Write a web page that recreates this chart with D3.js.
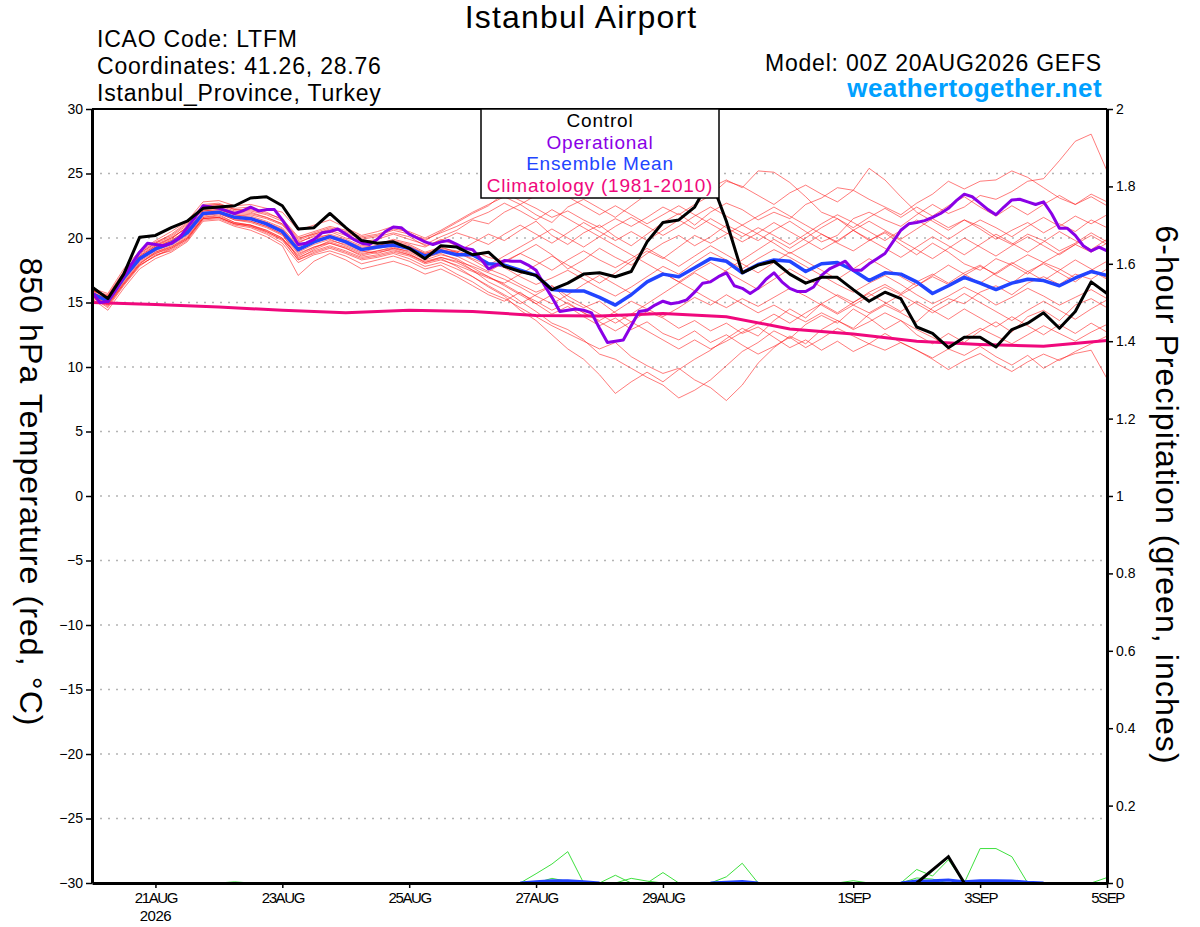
<!DOCTYPE html>
<html>
<head>
<meta charset="utf-8">
<script src="https://cdn.jsdelivr.net/npm/d3@7/dist/d3.min.js"></script>
<style>
body { margin: 0; background: #fff; }
svg { font-family: "Liberation Sans", Arial, Helvetica, sans-serif; }
</style>
</head>
<body>
<svg width="1200" height="927"></svg>
<script>
// time steps (hours) of the different series
const stepHours = 6;
const opStepHours = 3;
const climStepHours = 24;

// 850 hPa temperature, 6-hourly from 00Z 20AUG
const control = [16.2,15.3,17.2,20.05,20.2,20.8,21.3,22.3,22.4,22.5,23.1,23.2,22.5,20.7,20.8,21.9,20.8,19.8,19.6,19.7,
  19.2,18.4,19.4,19.3,18.7,18.9,17.8,17.4,17.1,16.0,16.5,17.2,17.3,17.0,17.4,19.7,21.2,21.4,22.4,24.6,
  21.3,17.3,17.9,18.2,17.2,16.5,16.95,16.95,16.0,15.1,15.8,15.3,13.1,12.6,11.5,12.3,12.3,11.55,12.9,13.4,
  14.2,13.0,14.3,16.6,15.7];

const ensembleMean = [15.7,15.1,16.9,18.4,19.15,19.6,20.4,21.9,22.0,21.6,21.5,21.1,20.5,19.1,19.7,20.1,19.7,19.1,19.3,19.45,
  19.2,18.6,19.0,18.7,18.7,18.0,17.9,17.5,17.1,16.0,15.9,15.9,15.4,14.8,15.6,16.6,17.2,17.0,17.7,18.4,
  18.2,17.3,17.95,18.3,18.2,17.4,18.0,18.1,17.5,16.7,17.3,17.2,16.6,15.7,16.3,16.95,16.5,16.0,16.5,16.8,
  16.7,16.3,16.9,17.4,17.1];

// operational run, 3-hourly
const operational = [15.8,15.0,15.1,16.0,17.0,18.0,18.9,19.6,19.5,19.4,
  19.6,20.0,20.8,21.6,22.5,22.4,22.3,22.1,21.9,22.1,
  22.4,22.1,22.2,22.2,21.4,20.5,19.5,19.6,19.9,20.4,
  20.5,20.7,20.3,19.9,19.6,19.5,19.9,20.5,20.85,20.8,
  20.3,20.0,19.7,19.5,19.7,19.8,19.5,19.2,19.1,18.4,
  17.6,17.9,18.25,18.2,18.2,17.9,17.5,16.4,15.4,14.3,
  14.4,14.5,14.4,14.2,13.0,11.9,12.0,12.1,13.2,14.3,
  14.4,14.8,15.1,14.9,15.0,15.2,15.8,16.5,16.6,17.0,
  17.3,16.3,16.1,15.7,16.1,16.8,17.3,16.6,16.1,15.85,
  15.85,16.2,17.1,17.6,17.9,18.2,17.5,17.5,18.0,18.4,
  18.8,19.7,20.6,21.1,21.2,21.35,21.6,21.9,22.3,22.9,
  23.4,23.2,22.7,22.2,21.8,22.4,22.95,23.0,22.8,22.6,
  22.8,21.9,20.75,20.75,20.2,19.4,19.0,19.3,19.0];

// climatology (1981-2010), daily
const climatology = [15.0,14.85,14.65,14.4,14.2,14.4,14.3,14.0,13.95,14.15,13.9,12.95,12.55,12.0,11.75,11.6,12.05];

// ensemble members, 6-hourly
const members = [
  [15.9,15.6,17.4,18.8,19.6,20.3,21.2,22.5,22.6,22.3,22.4,22.0,21.4, 20.0,20.3,20.6,20.2,19.8,19.5,19.9,19.6,19.3,19.9,19.4,19.0,
   18.5,18.2,18.8,19.5,18.7,17.6,18.3,19.2,18.5,17.9,18.8,19.6,20.2,19.4,20.1,21.0,
   20.4,19.8,20.6,21.3,20.5,19.7,20.2,21.5,22.0,21.4,20.9,21.8,22.6,21.9,22.4,23.3,23.0,23.6,24.4,24.6,26.0,27.5,28.05,25.2],
  [15.5,14.9,16.5,18.0,18.9,19.3,20.1,21.6,21.8,21.2,21.0,20.6,20.0, 18.6,19.2,19.8,19.5,19.0,18.8,19.2,19.0,18.4,19.0,18.9,19.6,
   20.3,19.8,20.6,21.3,20.2,19.5,20.4,21.0,20.1,19.4,20.3,21.2,21.9,21.0,22.0,22.7,
   22.2,21.4,22.0,21.5,22.6,23.1,23.9,23.7,25.4,24.5,23.2,22.0,21.3,20.6,21.4,20.9,20.1,19.5,20.3,19.8,19.0,19.6,20.4,19.7],
  [16.0,15.4,17.1,18.6,19.4,19.9,20.9,22.2,22.3,21.9,21.8,21.5,21.0, 19.6,20.2,20.5,20.0,19.7,19.9,20.3,19.9,19.5,20.1,20.6,21.4,
   21.1,22.0,22.6,21.8,21.2,22.4,23.0,22.3,21.6,22.5,23.4,24.0,23.6,24.6,23.9,24.5,
   23.9,25.2,25.1,24.3,23.2,22.0,21.5,20.6,19.8,20.4,19.5,18.7,19.6,18.9,18.0,17.5,18.4,17.9,17.2,18.1,17.6,16.9,17.5,16.8],
  [15.4,14.6,16.3,17.8,18.7,19.0,19.8,21.4,21.5,21.0,20.8,20.3,19.6, 18.1,18.7,19.0,18.6,18.0,18.3,18.6,18.2,17.6,17.9,17.2,16.6,
   15.8,15.3,14.6,13.9,13.2,12.6,12.0,11.4,11.9,10.8,10.1,9.5,9.9,9.0,8.4,7.4,
   8.6,10.3,11.5,12.4,11.8,12.9,13.6,13.0,14.1,14.8,14.2,13.5,14.6,15.3,14.9,15.8,16.3,15.6,16.5,17.0,16.4,17.2,16.8,17.6],
  [15.6,15.0,16.7,18.2,18.9,19.4,20.2,21.7,21.9,21.4,21.2,20.8,20.2, 18.8,19.3,19.6,19.2,18.7,19.0,19.2,18.8,18.1,18.4,17.8,17.0,
   16.2,15.5,14.4,13.6,12.5,11.4,10.6,9.4,7.95,8.85,9.6,8.85,9.8,10.6,11.3,12.2,
   13.0,12.4,13.6,14.5,13.8,14.9,15.6,15.0,15.8,16.4,15.7,16.6,17.2,16.5,17.3,17.9,17.1,16.5,17.4,18.0,17.3,16.6,17.5,18.2],
  [15.8,15.2,16.8,18.3,19.1,19.6,20.5,21.9,22.0,21.5,21.3,20.9,20.3, 18.9,19.5,19.9,19.4,18.9,19.2,19.4,19.1,18.5,18.8,18.3,17.5,
   16.6,16.0,15.1,14.3,13.4,12.9,12.1,11.0,10.6,9.9,9.2,8.6,7.6,8.2,9.0,10.1,
   11.2,11.9,12.8,12.2,13.3,14.0,13.4,14.5,13.8,12.9,13.6,12.5,11.8,12.6,11.9,12.8,13.5,12.7,13.9,14.4,13.6,14.8,15.3,14.6],
  [15.7,15.3,17.0,18.5,19.3,19.8,20.6,22.1,22.2,21.8,21.6,21.2,20.7, 19.3,19.9,20.3,19.9,19.4,19.6,19.8,19.5,18.9,19.3,18.9,18.3,
   17.6,17.1,16.4,15.8,16.3,15.2,14.6,15.1,14.2,13.5,14.3,13.8,13.0,13.6,12.8,13.4,
   12.6,13.1,12.3,11.5,12.1,11.3,12.0,11.2,11.8,12.6,11.9,11.3,10.7,11.4,10.9,11.6,10.8,10.15,10.9,9.9,10.6,11.05,11.3,9.1],
  [15.3,14.4,16.1,17.6,18.4,18.9,19.7,21.3,21.4,20.9,20.6,20.1,19.4, 17.1,18.2,18.8,18.3,17.6,17.9,18.2,17.8,17.2,17.6,17.0,16.3,
   15.6,15.1,15.8,14.9,14.1,14.7,13.9,13.2,13.8,12.9,13.5,12.6,12.1,12.8,11.9,12.5,
   11.7,11.0,11.6,12.3,11.5,12.2,13.0,12.4,11.8,11.3,11.9,11.3,10.6,9.8,10.5,11.05,10.3,9.65,10.4,11.0,10.5,11.2,11.8,12.4],
  [16.1,15.7,17.6,19.0,19.8,20.5,21.3,22.8,22.9,22.5,22.6,22.3,22.0, 20.6,21.0,21.4,20.8,20.2,20.5,20.9,20.4,19.8,20.5,21.2,21.9,
   22.5,23.5,22.9,22.3,21.6,22.1,21.4,20.8,21.5,20.9,21.6,22.4,21.8,22.6,23.3,24.4,
   24.0,23.3,22.6,23.5,24.1,23.4,22.8,23.7,23.0,22.4,21.8,22.7,23.4,24.4,23.8,24.4,24.5,25.2,24.7,23.9,23.1,22.6,23.2,22.5],
  [15.9,15.4,17.2,18.7,19.5,20.0,20.8,22.3,22.4,22.0,21.9,21.6,21.1, 19.7,20.1,20.2,19.8,19.3,19.4,19.7,19.4,18.8,19.2,19.0,18.6,
   18.1,17.7,17.0,16.4,16.9,17.5,16.8,16.1,15.5,16.2,17.0,17.8,17.2,18.1,18.9,18.3,
   17.6,18.4,19.1,18.5,17.8,17.1,16.4,15.8,16.5,17.1,16.4,15.6,14.9,15.5,16.2,15.6,14.8,15.4,16.1,15.5,14.8,15.4,16.0,15.3],
  [15.5,14.8,16.4,17.9,18.6,19.2,19.9,21.5,21.6,21.1,20.9,20.4,19.8, 18.3,18.9,19.3,18.9,18.4,18.6,18.9,18.6,18.0,18.3,17.9,17.4,
   16.9,16.5,17.2,17.9,18.6,17.9,17.2,16.5,17.3,18.2,19.0,18.4,19.3,20.2,19.6,20.3,
   21.0,20.3,19.6,18.8,19.5,20.3,19.7,20.6,21.3,20.6,19.9,20.7,21.5,20.8,21.4,20.7,19.9,20.6,21.2,20.4,21.1,20.5,21.4,20.8],
  [15.6,14.9,16.6,18.1,18.8,19.3,20.0,21.6,21.7,21.2,21.0,20.6,20.0, 18.5,19.0,19.4,19.0,18.5,18.7,19.0,18.7,18.2,18.5,18.1,17.5,
   17.0,16.4,15.7,15.1,14.4,15.0,14.2,13.6,14.3,15.1,14.5,13.9,14.6,15.4,14.8,15.6,
   14.9,14.2,14.8,14.1,13.5,14.2,13.6,12.9,13.5,14.2,13.6,12.9,12.3,11.6,12.3,13.0,12.4,11.8,12.5,13.2,12.6,12.0,12.7,13.3],
  [16.0,15.5,17.3,18.9,19.7,20.2,21.1,22.6,22.7,22.2,22.1,21.8,21.3, 19.9,20.4,20.8,20.4,19.9,20.1,20.4,20.1,19.4,19.8,20.4,20.0,
   19.5,20.3,21.0,20.3,19.6,20.4,21.2,20.5,19.8,20.5,19.8,20.6,21.4,20.7,21.5,20.8,
   20.1,20.8,20.2,19.5,20.3,21.1,21.8,21.2,20.5,19.8,20.6,21.4,20.7,19.9,20.7,21.4,20.8,20.1,20.9,21.6,20.9,21.7,21.1,21.8],
  [15.7,15.0,16.8,18.3,19.0,19.5,20.3,21.8,21.9,21.4,21.3,20.9,20.3, 18.4,19.1,19.6,19.2,18.6,18.9,19.1,18.7,18.1,18.5,18.2,17.8,
   17.3,16.8,16.2,15.5,14.9,15.6,16.4,17.1,16.4,15.7,16.5,17.3,16.6,17.4,18.1,17.4,
   16.7,16.0,16.8,17.6,16.9,16.2,15.5,14.8,14.2,14.9,15.6,14.9,14.2,14.9,15.7,15.0,14.3,13.6,14.4,15.1,14.4,13.7,14.5,15.2],
  [15.8,15.3,17.1,18.6,19.4,20.0,20.8,22.4,22.5,22.1,22.0,21.6,21.1, 19.8,20.3,20.7,20.5,20.0,20.2,20.6,20.3,19.9,20.4,20.9,21.5,
   22.0,22.7,22.1,21.4,22.2,21.5,20.8,20.1,19.4,18.7,18.0,17.3,16.6,15.9,15.2,14.6,
   15.3,14.7,15.4,16.1,15.5,14.8,14.1,14.8,15.5,16.2,15.6,16.3,17.0,16.4,17.1,17.8,17.2,18.0,18.7,18.1,18.8,19.5,18.9,19.6],
  [15.4,14.7,16.4,17.9,18.6,19.1,19.9,21.5,21.6,21.1,20.9,20.5,19.9, 18.3,18.8,19.2,18.8,18.3,18.5,18.8,18.4,17.8,18.1,17.6,17.0,
   16.3,15.6,14.9,15.6,16.3,15.5,14.8,14.1,13.4,14.1,14.9,15.7,16.5,17.3,16.6,17.5,
   18.3,19.1,19.9,19.2,20.0,20.8,21.5,20.8,21.6,22.3,21.6,22.4,21.7,22.5,23.2,22.4,21.7,22.5,21.8,22.6,23.3,22.6,23.4,22.8],
  [15.6,15.1,16.9,18.4,19.2,19.7,20.5,22.0,22.1,21.6,21.5,21.2,20.6, 19.2,19.7,20.0,19.6,19.1,19.3,19.6,19.3,18.8,19.1,18.6,18.0,
   17.4,18.1,18.8,18.2,17.5,18.3,19.0,18.3,17.7,18.4,19.2,18.5,17.8,18.6,19.4,18.7,
   18.0,17.3,18.1,18.9,18.2,17.5,16.8,17.6,18.4,17.7,17.0,16.3,17.1,17.9,17.2,16.5,17.3,18.1,17.4,16.7,17.5,18.3,17.6,16.9],
  [15.9,15.5,17.3,18.8,19.6,20.1,21.0,22.5,22.6,22.2,22.2,21.9,21.5, 20.1,20.5,20.9,20.6,20.1,20.3,20.7,20.5,20.0,20.6,21.3,22.0,
   22.6,23.2,22.6,23.3,23.9,23.2,22.5,21.8,22.5,21.8,21.1,21.8,22.5,21.8,21.1,20.4,
   19.7,20.4,21.2,20.5,19.8,19.1,19.8,20.6,19.9,19.2,18.5,19.3,20.1,19.4,18.7,19.5,20.3,19.6,18.9,19.7,20.5,19.8,19.1,19.9],
  [15.5,14.8,16.5,18.0,18.8,19.2,20.0,21.5,21.6,21.1,21.0,20.5,19.9, 18.7,19.3,19.7,19.3,18.8,19.0,19.3,18.9,18.3,18.7,18.4,17.7,
   17.0,16.3,15.6,14.9,15.6,14.9,14.2,13.5,12.8,13.5,12.8,12.1,11.4,12.1,11.4,12.0,
   12.7,13.4,14.1,13.4,14.2,14.9,14.2,15.0,15.7,15.0,14.3,15.1,14.4,13.7,14.5,13.8,13.1,13.9,13.2,12.5,13.3,12.6,13.4,12.7],
  [15.8,15.2,17.0,18.5,19.3,19.8,20.6,22.1,22.2,21.8,21.7,21.3,20.8, 19.4,19.9,20.1,19.7,19.2,19.4,19.7,19.3,18.7,19.1,18.9,18.4,
   17.9,18.6,19.3,20.0,20.7,20.0,19.3,20.1,20.9,21.6,20.9,20.2,20.9,21.7,22.4,21.7,
   21.0,21.7,22.4,21.7,21.0,20.3,19.6,19.0,19.8,20.5,19.8,19.1,18.4,19.2,20.0,19.3,18.6,19.4,20.1,19.4,18.7,19.5,20.2,19.5]
];

// 6-hour precipitation (inches): [first 6-hourly index, values]
const memberPrecip = [
  [8, [0, 0.003, 0]],
  [27, [0, 0.024, 0.049, 0.081, 0]],
  [28, [0, 0.012, 0.004, 0]],
  [32, [0, 0.02, 0]],
  [33, [0, 0.012, 0.005, 0]],
  [35, [0, 0.027, 0]],
  [39, [0, 0.016, 0.051, 0]],
  [47, [0, 0.006, 0]],
  [51, [0, 0.035, 0.018, 0.06, 0]],
  [51, [0, 0.013, 0.01, 0]],
  [55, [0, 0.089, 0.089, 0.068, 0]],
  [63, [0, 0.014]]
];
const controlPrecip = [[52, [0, 0.034, 0.068, 0]]];
const meanPrecip = [
  [27, [0, 0.003, 0.006, 0.006, 0.003, 0]],
  [39, [0, 0.002, 0.004, 0]],
  [51, [0, 0.005, 0.006, 0.008, 0.003, 0.006, 0.006, 0.005, 0.002, 0]]
];

// axes
const tempTicks = [-30, -25, -20, -15, -10, -5, 0, 5, 10, 15, 20, 25, 30];
const precipTicks = [0, 0.2, 0.4, 0.6, 0.8, 1, 1.2, 1.4, 1.6, 1.8, 2];
const dateTicks = [24, 72, 120, 168, 216, 288, 336, 384];
const dateLabels = ["21AUG", "23AUG", "25AUG", "27AUG", "29AUG", "1SEP", "3SEP", "5SEP"];

const legendItems = [
  ["Control", "#000000"],
  ["Operational", "#8a00e6"],
  ["Ensemble Mean", "#2244ff"],
  ["Climatology (1981-2010)", "#f0087c"]
];

const pLeft = 92, pRight = 1107, pTop = 109, pBottom = 883;
const svg = d3.select("svg");

const x = d3.scaleLinear().domain([0, 384]).range([pLeft, pRight]);
const y = d3.scaleLinear().domain([-30, 30]).range([pBottom, pTop]);
const yP = d3.scaleLinear().domain([0, 2]).range([pBottom, pTop]);

// dotted grid
svg.append("g")
  .selectAll("line")
  .data(tempTicks.filter(d => d > -30 && d < 30))
  .enter().append("line")
  .attr("x1", pLeft).attr("x2", pRight)
  .attr("y1", d => y(d)).attr("y2", d => y(d))
  .attr("stroke", "#b4b4b4")
  .attr("stroke-width", 1.5)
  .attr("stroke-dasharray", "2,6");

const lineStep = (step, scale) => d3.line()
  .x((d, i) => x(i * step))
  .y(d => scale(d));

const runLine = scale => d3.line()
  .x(d => x(d[0] * stepHours))
  .y(d => scale(d[1]));
const runPoints = r => r[1].map((v, k) => [r[0] + k, v]);

const plot = svg.append("g");

// ensemble members
plot.selectAll(".member")
  .data(members)
  .enter().append("path")
  .attr("class", "member")
  .attr("d", lineStep(stepHours, y))
  .attr("fill", "none")
  .attr("stroke", "#ff1a1a")
  .attr("stroke-opacity", 0.72)
  .attr("stroke-width", 0.8);

// precip members
plot.selectAll(".pmember")
  .data(memberPrecip)
  .enter().append("path")
  .attr("class", "pmember")
  .attr("d", r => runLine(yP)(runPoints(r)))
  .attr("fill", "none")
  .attr("stroke", "#3ee03e")
  .attr("stroke-width", 1);

plot.selectAll(".pmean")
  .data(meanPrecip)
  .enter().append("path")
  .attr("class", "pmean")
  .attr("d", r => runLine(yP)(runPoints(r)))
  .attr("fill", "none")
  .attr("stroke", "#2244ff")
  .attr("stroke-width", 3);

plot.selectAll(".pctl")
  .data(controlPrecip)
  .enter().append("path")
  .attr("class", "pctl")
  .attr("d", r => runLine(yP)(runPoints(r)))
  .attr("fill", "none")
  .attr("stroke", "#000")
  .attr("stroke-width", 3);

// main lines
plot.append("path")
  .attr("d", lineStep(climStepHours, y)(climatology))
  .attr("fill", "none").attr("stroke", "#f0087c").attr("stroke-width", 3);

plot.append("path")
  .attr("d", lineStep(stepHours, y)(ensembleMean))
  .attr("fill", "none").attr("stroke", "#2244ff").attr("stroke-width", 3.5)
  .attr("stroke-linejoin", "round");

plot.append("path")
  .attr("d", lineStep(opStepHours, y)(operational))
  .attr("fill", "none").attr("stroke", "#8a00e6").attr("stroke-width", 3)
  .attr("stroke-linejoin", "round");

plot.append("path")
  .attr("d", lineStep(stepHours, y)(control))
  .attr("fill", "none").attr("stroke", "#000").attr("stroke-width", 3)
  .attr("stroke-linejoin", "round");

// axes
const styleAxis = g => {
  g.select(".domain").attr("stroke-width", 3);
  g.selectAll(".tick line").attr("stroke-width", 1.5);
  g.selectAll(".tick text").attr("font-size", 14).attr("font-family", "Liberation Sans, Arial, sans-serif").attr("fill", "#000");
};

svg.append("g")
  .attr("transform", `translate(${pLeft},0)`)
  .call(d3.axisLeft(y).tickValues(tempTicks).tickSize(6).tickSizeOuter(0).tickPadding(3))
  .call(styleAxis);

svg.append("g")
  .attr("transform", `translate(${pRight},0)`)
  .call(d3.axisRight(yP).tickValues(precipTicks).tickFormat(d => String(d)).tickSize(6).tickSizeOuter(0).tickPadding(3))
  .call(styleAxis);

const xAxis = svg.append("g")
  .attr("transform", `translate(0,${pBottom})`)
  .call(d3.axisBottom(x).tickValues(dateTicks).tickFormat((d, i) => dateLabels[i]).tickSize(5).tickSizeOuter(0).tickPadding(4))
  .call(styleAxis);
xAxis.selectAll(".tick text").attr("font-size", 15).attr("letter-spacing", -1.4);

svg.append("text")
  .attr("x", x(dateTicks[0])).attr("y", pBottom + 38)
  .attr("text-anchor", "middle").attr("font-size", 15).attr("letter-spacing", -0.5)
  .text("2026");

// top frame
svg.append("line")
  .attr("x1", pLeft).attr("x2", pRight)
  .attr("y1", pTop).attr("y2", pTop)
  .attr("stroke", "#000").attr("stroke-width", 2);

// legend
const legend = svg.append("g");
legend.append("rect")
  .attr("x", 481).attr("y", pTop)
  .attr("width", 238).attr("height", 89)
  .attr("fill", "#fff").attr("stroke", "#000").attr("stroke-width", 1.5);
legend.selectAll("text")
  .data(legendItems)
  .enter().append("text")
  .attr("x", 600)
  .attr("y", (d, i) => 127 + i * 21.7)
  .attr("text-anchor", "middle")
  .attr("font-size", 19)
  .attr("letter-spacing", 0.8)
  .attr("fill", d => d[1])
  .text(d => d[0]);

// titles
svg.append("text")
  .attr("x", 581).attr("y", 28)
  .attr("text-anchor", "middle").attr("font-size", 32).attr("letter-spacing", 1.2)
  .text("Istanbul Airport");

const info = ["ICAO Code: LTFM", "Coordinates: 41.26, 28.76", "Istanbul_Province, Turkey"];
svg.selectAll(".info")
  .data(info)
  .enter().append("text")
  .attr("class", "info")
  .attr("x", 97)
  .attr("y", (d, i) => 47 + i * 27)
  .attr("font-size", 23)
  .attr("letter-spacing", 0.8)
  .text(d => d);

svg.append("text")
  .attr("x", 1102).attr("y", 71)
  .attr("text-anchor", "end").attr("font-size", 23).attr("letter-spacing", 0.8)
  .text("Model: 00Z 20AUG2026 GEFS");

svg.append("text")
  .attr("x", 1102).attr("y", 97)
  .attr("text-anchor", "end").attr("font-size", 26).attr("font-weight", "bold")
  .attr("letter-spacing", 0.4)
  .attr("fill", "#00a0ff")
  .text("weathertogether.net");

svg.append("text")
  .attr("transform", "translate(20,492) rotate(90)")
  .attr("text-anchor", "middle").attr("font-size", 32).attr("letter-spacing", 1.1)
  .text("850 hPa Temperature (red, °C)");

svg.append("text")
  .attr("transform", "translate(1156,495) rotate(90)")
  .attr("text-anchor", "middle").attr("font-size", 32).attr("letter-spacing", 1.1)
  .text("6-hour Precipitation (green, inches)");
</script>
</body>
</html>
